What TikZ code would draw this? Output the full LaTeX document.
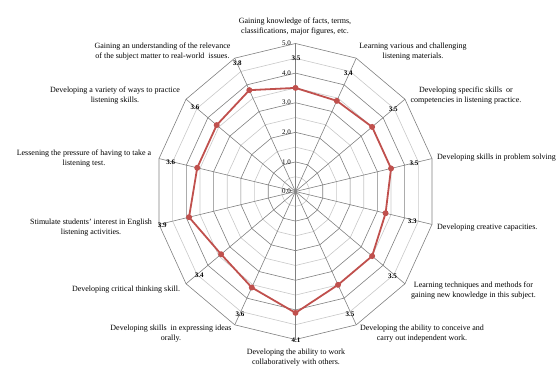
\documentclass[tikz,border=0pt]{standalone}
\usepackage{fontspec}
\setmainfont{Liberation Serif}
\definecolor{seriesred}{RGB}{192,80,77}
\definecolor{griddark}{RGB}{128,128,128}
\definecolor{gridlight}{RGB}{200,200,200}

\begin{document}
\begin{tikzpicture}[x=28pt,y=29.6pt,
  major ring/.style={draw=griddark,line width=0.6pt},
  minor ring/.style={draw=gridlight,line width=0.6pt},
  spoke/.style={draw=griddark,line width=0.6pt},
  series/.style={draw=seriesred,line width=1.8pt,line join=round},
  marker/.style={circle,fill=seriesred,inner sep=0pt,minimum size=6pt},
  cat label/.style={align=center,font=\fontsize{8}{10}\selectfont,inner sep=0pt},
  val label/.style={font=\fontsize{7}{8}\selectfont\bfseries,inner sep=0pt},
  axis num/.style={font=\fontsize{7}{8}\selectfont,inner sep=0pt,anchor=east}]
  \useasboundingbox (-295.5pt,-175.5pt) rectangle (263.5pt,191.5pt);
  % grid rings and spokes
  \foreach \r in {0.5,1.5,...,4.5}
    \draw[minor ring] (90:\r) \foreach \k in {1,...,13} {-- (90-\k*25.7143:\r)} -- cycle;
  \foreach \r in {1,...,5}
    \draw[major ring] (90:\r) \foreach \k in {1,...,13} {-- (90-\k*25.7143:\r)} -- cycle;
  \foreach \k in {0,...,13}
    \draw[spoke] (0,0) -- (90-\k*25.7143:5);
  \foreach \v in {0,...,5}
    \node[axis num] (tick\v) at ([xshift=-4.5pt]0,\v) {\v.0};
  % data series
  \foreach \v [count=\k from 0] in {3.5,3.4,3.5,3.5,3.3,3.5,3.5,4.1,3.6,3.4,3.9,3.6,3.6,3.8}
    \coordinate (p\k) at (90-\k*25.7143:\v);
  \draw[series] (p0) -- (p1) -- (p2) -- (p3) -- (p4) -- (p5) -- (p6) -- (p7)
    -- (p8) -- (p9) -- (p10) -- (p11) -- (p12) -- (p13) -- cycle;
  \foreach \k in {0,...,13}
    \node[marker] (m\k) at (p\k) {};
  % value labels
  \node[val label] (v0) at (0.5pt,133.5pt) {3.5};
  \node[val label] (v1) at (52.8pt,118.2pt) {3.4};
  \node[val label] (v2) at (97.8pt,82.2pt) {3.5};
  \node[val label] (v3) at (118.5pt,28.2pt) {3.5};
  \node[val label] (v4) at (116.8pt,-29.5pt) {3.3};
  \node[val label] (v5) at (97pt,-84.5pt) {3.5};
  \node[val label] (v6) at (54.5pt,-122.5pt) {3.5};
  \node[val label] (v7) at (0.5pt,-148.5pt) {4.1};
  \node[val label] (v8) at (-55.5pt,-122.5pt) {3.6};
  \node[val label] (v9) at (-96.2pt,-83.5pt) {3.4};
  \node[val label] (v10) at (-133.2pt,-34.2pt) {3.9};
  \node[val label] (v11) at (-124.8pt,28.8pt) {3.6};
  \node[val label] (v12) at (-100.5pt,84.2pt) {3.6};
  \node[val label] (v13) at (-58.2pt,128.2pt) {3.8};
  % category labels
  \node[cat label] (c0) at (-0.5pt,165pt) {Gaining knowledge of facts, terms,\\classifications, major figures, etc.};
  \node[cat label] (c1) at (117.5pt,139.5pt) {Learning various and challenging\\listening materials.};
  \node[cat label] (c2) at (170.5pt,95.5pt) {Developing specific skills\ \ or\\competencies in listening practice.};
  \node[cat label,anchor=west] (c3) at (141.5pt,33.5pt) {Developing skills in problem solving};
  \node[cat label,anchor=west] (c4) at (141.5pt,-36.2pt) {Developing creative capacities.};
  \node[cat label] (c5) at (178pt,-99pt) {Learning techniques and methods for\\gaining new knowledge in this subject.};
  \node[cat label] (c6) at (126.5pt,-142.5pt) {Developing the ability to conceive and\\carry out independent work.};
  \node[cat label] (c7) at (0.5pt,-166.5pt) {Developing the ability to work\\collaboratively with others.};
  \node[cat label] (c8) at (-124.5pt,-142.5pt) {Developing skills\ \ in expressing ideas\\orally.};
  \node[cat label] (c9) at (-169.5pt,-98.5pt) {Developing critical thinking skill.};
  \node[cat label] (c10) at (-204.5pt,-36pt) {Stimulate students' interest in English\\listening activities.};
  \node[cat label] (c11) at (-211.5pt,33.2pt) {Lessening the pressure of having to take a\\listening test.};
  \node[cat label] (c12) at (-180.5pt,95.5pt) {Developing a variety of ways to practice\\listening skills.};
  \node[cat label] (c13) at (-133pt,139.8pt) {Gaining an understanding of the relevance\\of the subject matter to real-world\ \ issues.};
\end{tikzpicture}
\end{document}
